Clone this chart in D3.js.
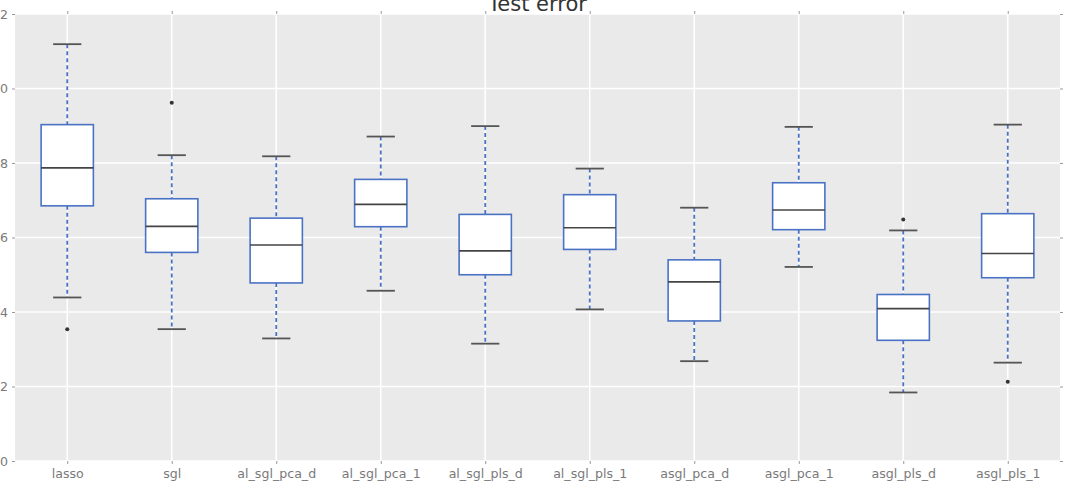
<!DOCTYPE html>
<html>
<head>
<meta charset="utf-8">
<script src="https://cdn.jsdelivr.net/npm/d3@7"></script>
<style>
  body { margin: 0; background: #fff; }
  svg { display: block; font-family: "DejaVu Sans", sans-serif; }
</style>
</head>
<body>
<svg width="1065" height="484"></svg>
<script>
// data
const categories = ['lasso', 'sgl', 'al_sgl_pca_d', 'al_sgl_pca_1', 'al_sgl_pls_d',
  'al_sgl_pls_1', 'asgl_pca_d', 'asgl_pca_1', 'asgl_pls_d', 'asgl_pls_1'];
const whiskerLow = [4.39, 3.54, 3.29, 4.57, 3.15, 4.07, 2.68, 5.21, 1.84, 2.64];
const q1 = [6.85, 5.60, 4.78, 6.29, 5.00, 5.68, 3.76, 6.21, 3.24, 4.92];
const medians = [7.87, 6.30, 5.80, 6.89, 5.64, 6.26, 4.81, 6.74, 4.09, 5.57];
const q3 = [9.03, 7.04, 6.52, 7.56, 6.62, 7.15, 5.40, 7.47, 4.47, 6.64];
const whiskerHigh = [11.19, 8.21, 8.18, 8.71, 8.99, 7.85, 6.80, 8.97, 6.19, 9.03];
const outliers = [[3.54], [9.62], [], [], [], [], [], [], [6.48], [2.13]];
const yTicks = [0, 2, 4, 6, 8, 10, 12];
const title = 'Test error';

const svg = d3.select('svg');
const margin = { left: 15, right: 1060, top: 14, bottom: 461 };

const x = d3.scalePoint()
  .domain(categories)
  .range([margin.left, margin.right])
  .padding(0.5);

const y = d3.scaleLinear()
  .domain([0, 12])
  .range([margin.bottom, margin.top]);

const boxW = x.step() * 0.5;
const capW = x.step() * 0.27;

// panel background
svg.append('rect')
  .attr('x', margin.left)
  .attr('y', margin.top)
  .attr('width', margin.right - margin.left)
  .attr('height', margin.bottom - margin.top)
  .attr('fill', '#eaeaea');

// grid
svg.append('g').selectAll('line.h')
  .data(yTicks)
  .join('line')
  .attr('x1', margin.left)
  .attr('x2', margin.right)
  .attr('y1', (d) => y(d))
  .attr('y2', (d) => y(d))
  .attr('stroke', '#fff')
  .attr('stroke-width', 1.6);

svg.append('g').selectAll('line.v')
  .data(categories)
  .join('line')
  .attr('x1', (d) => x(d))
  .attr('x2', (d) => x(d))
  .attr('y1', margin.top)
  .attr('y2', margin.bottom)
  .attr('stroke', '#fff')
  .attr('stroke-width', 1.6);

// axes (the y labels 12 and 10 run off the left edge, as in the reference)
const leftAxis = svg.append('g')
  .attr('transform', `translate(${margin.left},0)`)
  .call(d3.axisLeft(y).tickValues(yTicks).tickFormat(d3.format('d')).tickSize(3).tickPadding(4));
const bottomAxis = svg.append('g')
  .attr('transform', `translate(0,${margin.bottom})`)
  .call(d3.axisBottom(x).tickSize(3).tickPadding(5));
const topAxis = svg.append('g')
  .attr('transform', `translate(0,${margin.top})`)
  .call(d3.axisTop(x).tickSize(3).tickFormat(''));
const rightAxis = svg.append('g')
  .attr('transform', `translate(${margin.right},0)`)
  .call(d3.axisRight(y).tickValues(yTicks).tickSize(3).tickFormat(''));

[leftAxis, bottomAxis, topAxis, rightAxis].forEach((a) => {
  a.select('.domain').remove();
  a.selectAll('.tick line').attr('stroke', '#999').attr('stroke-width', 1);
  a.selectAll('.tick text')
    .attr('fill', '#7a7a7a')
    .style('font-size', '12.6px')
    .style('font-family', '"DejaVu Sans", sans-serif');
});

// boxes
const boxes = svg.append('g').selectAll('g.box')
  .data(categories)
  .join('g')
  .attr('class', 'box');

boxes.append('line')
  .attr('x1', (d) => x(d))
  .attr('x2', (d) => x(d))
  .attr('y1', (d, i) => y(whiskerHigh[i]))
  .attr('y2', (d, i) => y(q3[i]))
  .attr('stroke', '#4a72c4')
  .attr('stroke-width', 1.8)
  .attr('stroke-dasharray', '4,3');

boxes.append('line')
  .attr('x1', (d) => x(d))
  .attr('x2', (d) => x(d))
  .attr('y1', (d, i) => y(q1[i]))
  .attr('y2', (d, i) => y(whiskerLow[i]))
  .attr('stroke', '#4a72c4')
  .attr('stroke-width', 1.8)
  .attr('stroke-dasharray', '4,3');

boxes.append('rect')
  .attr('x', (d) => x(d) - boxW / 2)
  .attr('y', (d, i) => y(q3[i]))
  .attr('width', boxW)
  .attr('height', (d, i) => y(q1[i]) - y(q3[i]))
  .attr('fill', '#fff')
  .attr('stroke', '#4a72c4')
  .attr('stroke-width', 1.6);

boxes.append('line')
  .attr('x1', (d) => x(d) - boxW / 2)
  .attr('x2', (d) => x(d) + boxW / 2)
  .attr('y1', (d, i) => y(medians[i]))
  .attr('y2', (d, i) => y(medians[i]))
  .attr('stroke', '#444')
  .attr('stroke-width', 1.6);

['high', 'low'].forEach((k) => {
  boxes.append('line')
    .attr('x1', (d) => x(d) - capW / 2)
    .attr('x2', (d) => x(d) + capW / 2)
    .attr('y1', (d, i) => y(k === 'high' ? whiskerHigh[i] : whiskerLow[i]))
    .attr('y2', (d, i) => y(k === 'high' ? whiskerHigh[i] : whiskerLow[i]))
    .attr('stroke', '#555')
    .attr('stroke-width', 1.8);
});

boxes.selectAll('circle')
  .data((d, i) => outliers[i].map((v) => ({ c: d, v })))
  .join('circle')
  .attr('cx', (d) => x(d.c))
  .attr('cy', (d) => y(d.v))
  .attr('r', 2)
  .attr('fill', '#333');

// title (cropped at top in the reference)
svg.append('text')
  .attr('x', (margin.left + margin.right) / 2)
  .attr('y', 11)
  .attr('text-anchor', 'middle')
  .attr('fill', '#333')
  .style('font-size', '21px')
  .text(title);
</script>
</body>
</html>
